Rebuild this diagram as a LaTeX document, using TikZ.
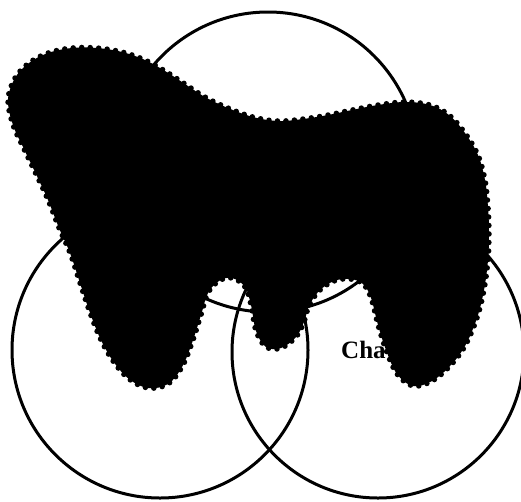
\documentclass[tikz,border=0pt]{standalone}
\usepackage{fontspec}
\setmainfont{Liberation Serif}
\begin{document}
\begin{tikzpicture}[x=1pt,y=-1pt,line join=round,line cap=round]
	\tikzset{ring/.style={line width=3pt},
		blob/.style={fill=black,draw=black,line width=5.5pt,dash pattern=on 0pt off 8.5pt}}
	\useasboundingbox (0,0) rectangle (521,501);
	\coordinate (top) at (268,162);
	\coordinate (left) at (160,350);
	\coordinate (right) at (378,352);
	\draw[ring] (top) circle [radius=150pt];
	\draw[ring] (left) circle [radius=148pt];
	\draw[ring] (right) circle [radius=146pt];
	\node[anchor=base west,inner sep=0pt,font=\bfseries\fontsize{25}{25}\selectfont] (cha) at (341,358) {Cha};
	% the black blot lies over circles and text
	\fill[blob] plot[smooth cycle,tension=0.6] coordinates {(8,100) (15,78) (29,63) (48,53) (72,48) (97,48) (122,52) (145,60) (165,71) (185,84) (205,97) (228,108) (253,117) (278,121) (303,119) (328,115) (352,110) (378,105) (405,102) (430,105) (449,115) (465,133) (478,155) (485,180) (488,207) (489,233) (488,260) (484,290) (477,318) (465,346) (450,366) (432,381) (413,386) (397,374) (386,350) (378,325) (371,298) (363,284) (350,279) (334,281) (319,291) (309,306) (304,322) (296,337) (281,348) (266,347) (256,331) (251,305) (245,287) (232,278) (219,281) (208,293) (201,315) (192,343) (182,367) (168,384) (148,388) (129,379) (113,361) (100,338) (89,310) (79,280) (70,253) (59,228) (48,200) (35,172) (23,147) (13,125)};
\end{tikzpicture}
\end{document}
